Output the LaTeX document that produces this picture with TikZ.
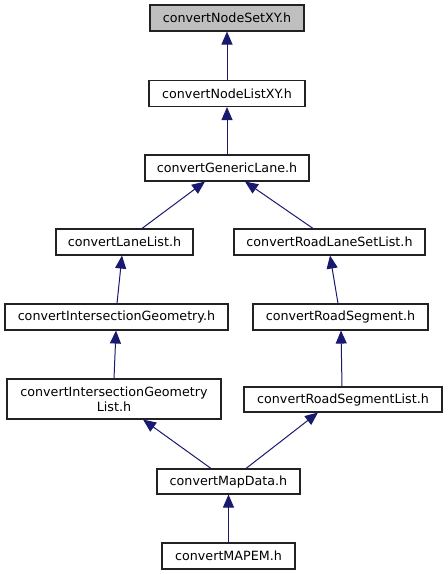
\documentclass[tikz,border=0pt]{standalone}
\usepackage{fontspec}
\setmainfont{DejaVu Sans}
\usetikzlibrary{arrows.meta,calc}
\definecolor{edgeblue}{HTML}{191970}
\definecolor{topfill}{HTML}{BFBFBF}
\definecolor{boxline}{HTML}{222222}
\begin{document}
\begin{tikzpicture}[x=1pt,y=-1pt,
  box/.style={draw=boxline,line width=1.1pt,fill=white,rectangle,inner sep=0pt,minimum height=26pt,
    align=center,font=\fontsize{12.7}{15}\selectfont},
  edge/.style={draw=edgeblue,line width=1pt,-{Triangle[length=13pt,width=11pt]}}]
\useasboundingbox (0,0) rectangle (447,575);
\node[box,fill=topfill,minimum width=154pt] (setxy) at (227,18) {convertNodeSetXY.h};
\node[box,minimum width=156pt] (listxy) at (227,93.5) {convertNodeListXY.h};
\node[box,minimum width=164pt] (generic) at (227,168) {convertGenericLane.h};
\node[box,minimum width=137pt] (lanelist) at (124.5,242) {convertLaneList.h};
\node[box,minimum width=191pt] (roadlane) at (329.5,242) {convertRoadLaneSetList.h};
\node[box,minimum width=223pt] (ig) at (116.5,317) {convertIntersectionGeometry.h};
\node[box,minimum width=175pt] (rs) at (340.5,317) {convertRoadSegment.h};
\node[box,minimum width=214pt,minimum height=40pt] (iglist) at (114,399) {convertIntersectionGeometry\\List.h};
\node[box,minimum width=198pt,minimum height=25pt] (rslist) at (343,399.5) {convertRoadSegmentList.h};
\node[box,minimum width=143pt,minimum height=25pt] (mapdata) at (228.5,481.5) {convertMapData.h};
\node[box,minimum width=133pt] (mapem) at (228.5,556) {convertMAPEM.h};
\draw[edge] (listxy.north) -- (setxy.south);
\draw[edge] (generic.north) -- (listxy.south);
\draw[edge] ($(lanelist.north)+(17.5,0)$) -- ($(generic.south)+(-22,0)$);
\draw[edge] ($(roadlane.north)+(-16.5,0)$) -- ($(generic.south)+(18,0)$);
\draw[edge] ($(ig.north)+(0.5,0)$) -- ($(lanelist.south)+(-2.5,0)$);
\draw[edge] ($(rs.north)+(-2.5,0)$) -- ($(roadlane.south)+(0.5,0)$);
\draw[edge] (iglist.north) -- ($(ig.south)+(-0.5,0)$);
\draw[edge] ($(rslist.north)+(-1,0)$) -- ($(rs.south)+(0.5,0)$);
\draw[edge] ($(mapdata.north)+(-17.5,0)$) -- ($(iglist.south)+(29,0)$);
\draw[edge] ($(mapdata.north)+(17.5,0)$) -- ($(rslist.south)+(-25,0)$);
\draw[edge] (mapem.north) -- (mapdata.south);
\end{tikzpicture}
\end{document}
